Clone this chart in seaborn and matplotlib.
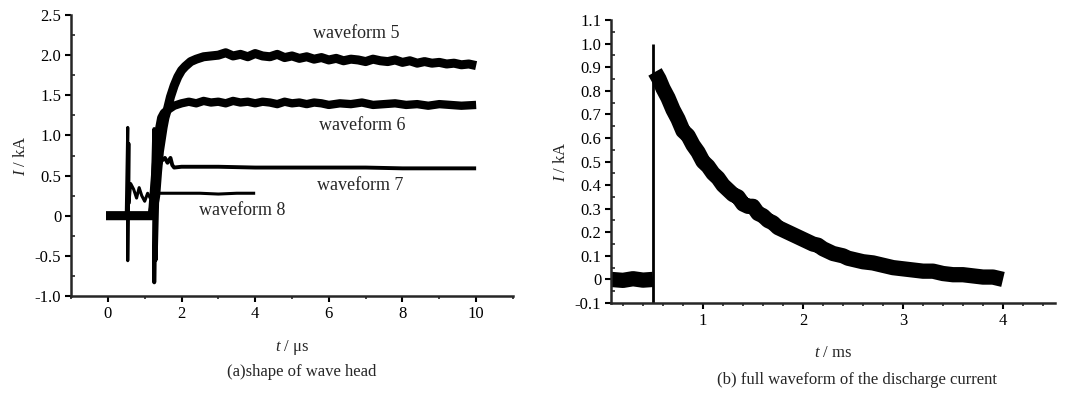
import matplotlib
matplotlib.use("Agg")
import matplotlib.pyplot as plt
import seaborn as sns
import pandas as pd
from matplotlib.ticker import MultipleLocator, FuncFormatter

sns.set_theme(style="ticks")
plt.rcParams['font.family'] = ['Liberation Serif', 'DejaVu Serif']
plt.rcParams['mathtext.fontset'] = 'custom'
plt.rcParams['mathtext.it'] = 'Liberation Serif:italic'
plt.rcParams['mathtext.rm'] = 'Liberation Serif'

# ---------------- data: panel (a), t in us, I in kA ----------------
w5_t = [-0.05, 0.3, 0.6, 0.9, 1.2, 1.30, 1.35, 1.40, 1.45, 1.50, 1.55, 1.62, 1.70, 1.80, 1.90, 2.00,
        2.10, 2.25, 2.40, 2.60, 2.80, 3.00, 3.2, 3.4, 3.6, 3.8, 4.0, 4.2, 4.4, 4.6, 4.8, 5.0,
        5.2, 5.4, 5.6, 5.8, 6.0, 6.2, 6.4, 6.6, 6.8, 7.0, 7.2, 7.4, 7.6, 7.8, 8.0, 8.2, 8.4,
        8.6, 8.8, 9.0, 9.2, 9.4, 9.6, 9.8, 10.0]
w5_i = [0.0, 0.0, 0.0, 0.0, 0.0, 0.25, 0.55, 0.80, 0.95, 1.10, 1.22, 1.33, 1.48, 1.62, 1.73, 1.81,
        1.86, 1.92, 1.95, 1.98, 1.99, 2.00, 2.03, 1.99, 2.01, 1.98, 2.02, 1.99, 1.98, 2.01, 1.97,
        1.99, 1.96, 1.98, 1.95, 1.97, 1.94, 1.96, 1.93, 1.95, 1.94, 1.92, 1.95, 1.93, 1.92,
        1.94, 1.91, 1.93, 1.90, 1.92, 1.90, 1.91, 1.89, 1.90, 1.88, 1.89, 1.87]

w6_t = [-0.05, 0.6, 1.2, 1.30, 1.38, 1.45, 1.52, 1.60, 1.70, 1.80, 2.00, 2.2, 2.4, 2.6, 2.8,
        3.0, 3.2, 3.4, 3.6, 3.8, 4.0, 4.2, 4.4, 4.6, 4.8, 5.0, 5.2, 5.4, 5.6, 5.8, 6.0, 6.3,
        6.6, 6.9, 7.2, 7.5, 7.8, 8.1, 8.4, 8.7, 9.0, 9.3, 9.6, 10.0]
w6_i = [0.0, 0.0, 0.0, 0.6, 1.05, 1.22, 1.28, 1.31, 1.34, 1.37, 1.40, 1.42, 1.40, 1.43, 1.41,
        1.42, 1.40, 1.43, 1.41, 1.42, 1.40, 1.42, 1.41, 1.39, 1.42, 1.40, 1.41, 1.39, 1.41,
        1.40, 1.38, 1.40, 1.39, 1.41, 1.38, 1.39, 1.40, 1.38, 1.39, 1.37, 1.39, 1.38, 1.37, 1.38]

w7_t = [-0.05, 0.6, 1.2, 1.26, 1.26, 1.30, 1.30, 1.36, 1.45, 1.55, 1.62, 1.70, 1.75, 1.80,
        2.0, 3.0, 4.0, 5.0, 6.0, 7.0, 8.0, 9.0, 10.0]
w7_i = [0.0, 0.0, 0.0, 1.08, -0.83, 0.90, -0.55, 0.55, 0.68, 0.72, 0.66, 0.72, 0.63, 0.60,
        0.61, 0.61, 0.60, 0.60, 0.60, 0.60, 0.59, 0.59, 0.59]

w8_t = [-0.05, 0.30, 0.50, 0.54, 0.54, 0.57, 0.57, 0.62, 0.70, 0.78, 0.85, 0.92, 1.00,
        1.08, 1.15, 1.22, 1.30, 1.40, 1.50, 2.0, 2.5, 3.0, 3.5, 4.0]
w8_i = [0.0, 0.0, 0.0, 1.10, -0.56, 0.90, 0.15, 0.40, 0.33, 0.22, 0.35, 0.25, 0.18,
        0.28, 0.22, 0.27, 0.25, 0.28, 0.28, 0.28, 0.28, 0.27, 0.28, 0.28]

labels_a = ["waveform 5", "waveform 6", "waveform 7", "waveform 8"]
label_t = [6.75, 6.9, 6.85, 3.65]
label_i = [2.27, 1.12, 0.38, 0.06]

# ---------------- data: panel (b), t in ms, I in kA ----------------
base_t = [0.08, 0.20, 0.30, 0.40, 0.50]
base_i = [0.0, -0.004, 0.003, -0.003, 0.0]
spike_t = [0.50, 0.50]
spike_i = [-0.10, 1.00]
decay_t = [0.52, 0.56, 0.60, 0.65, 0.70, 0.75, 0.80, 0.85, 0.90, 0.95, 1.00, 1.05, 1.10, 1.15,
           1.20, 1.25, 1.30, 1.35, 1.40, 1.45, 1.50, 1.55, 1.60, 1.65, 1.70, 1.75, 1.80, 1.85,
           1.90, 1.95, 2.00, 2.05, 2.10, 2.15, 2.20, 2.25, 2.30, 2.35, 2.40, 2.45, 2.50, 2.60,
           2.70, 2.80, 2.90, 3.00, 3.10, 3.20, 3.30, 3.40, 3.50, 3.60, 3.70, 3.80, 3.90, 4.00]
decay_i = [0.88, 0.85, 0.81, 0.77, 0.72, 0.68, 0.63, 0.61, 0.57, 0.54, 0.50, 0.48, 0.45, 0.43,
           0.40, 0.38, 0.36, 0.35, 0.32, 0.31, 0.31, 0.28, 0.27, 0.25, 0.24, 0.22, 0.21, 0.20,
           0.19, 0.18, 0.17, 0.16, 0.15, 0.145, 0.13, 0.12, 0.11, 0.105, 0.10, 0.09, 0.085, 0.075,
           0.07, 0.06, 0.05, 0.045, 0.04, 0.035, 0.035, 0.025, 0.02, 0.02, 0.015, 0.01, 0.01, 0.0]

fig = plt.figure(figsize=(10.68, 3.93), dpi=100)
ax1 = fig.add_axes([0.0665, 0.2468, 0.4138, 0.715])
ax2 = fig.add_axes([0.5721, 0.229, 0.4157, 0.720])

def draw(ax, t, i, lw):
    df = pd.DataFrame({"t": t, "i": i})
    sns.lineplot(data=df, x="t", y="i", ax=ax, estimator=None, sort=False,
                 color="black", linewidth=lw, solid_joinstyle="round", solid_capstyle="butt")

draw(ax1, w8_t, w8_i, 2.2)
draw(ax1, w7_t, w7_i, 2.8)
draw(ax1, w6_t, w6_i, 6.0)
draw(ax1, w5_t, w5_i, 6.5)
for s, x, y in zip(labels_a, label_t, label_i):
    ax1.text(x, y, s, ha="center", va="center", fontsize=13)

draw(ax2, base_t, base_i, 11)
draw(ax2, spike_t, spike_i, 2.0)
draw(ax2, decay_t, decay_i, 11)

fmt = FuncFormatter(lambda v, p: "0" if abs(v) < 1e-9 else ("%.1f" % v).replace("\u2212", "-"))

ax1.set_xlim(-1, 11)
ax1.set_ylim(-1.0, 2.5)
ax1.xaxis.set_major_locator(MultipleLocator(2))
ax1.xaxis.set_minor_locator(MultipleLocator(1))
ax1.yaxis.set_major_locator(MultipleLocator(0.5))
ax1.yaxis.set_minor_locator(MultipleLocator(0.25))
ax1.yaxis.set_major_formatter(fmt)

ax2.set_xlim(0.08, 4.52)
ax2.set_ylim(-0.1, 1.1)
ax2.xaxis.set_major_locator(MultipleLocator(1))
ax2.xaxis.set_minor_locator(MultipleLocator(0.2))
ax2.yaxis.set_major_locator(MultipleLocator(0.1))
ax2.yaxis.set_minor_locator(MultipleLocator(0.05))
ax2.yaxis.set_major_formatter(fmt)

for ax in (ax1, ax2):
    sns.despine(ax=ax)
    ax.spines["left"].set_linewidth(1.8)
    ax.spines["bottom"].set_linewidth(1.8)
    ax.tick_params(axis="both", which="major", direction="out", length=4, width=1.5,
                   labelsize=12, colors="black", pad=3)
    ax.tick_params(axis="y", which="minor", direction="in", length=3, width=1.2)
    ax.tick_params(axis="x", which="minor", direction="out", length=2.5, width=1.2)
    ax.set_xlabel("")
    ax.set_ylabel("")

ax1.set_ylabel("$I$ / kA", fontsize=12, labelpad=4)
ax1.set_xlabel("$t$ / \u03bcs", fontsize=12, labelpad=12)
ax2.set_ylabel("$I$ / kA", fontsize=12, labelpad=4)
ax2.set_xlabel("$t$ / ms", fontsize=12, labelpad=12)

fig.text(302 / 1068, 1 - 372 / 393, "(a)shape of wave head", ha="center", va="center", fontsize=12)
fig.text(857 / 1068, 1 - 380 / 393, "(b) full waveform of the discharge current",
         ha="center", va="center", fontsize=12)

fig.savefig("out.png", dpi=100)
